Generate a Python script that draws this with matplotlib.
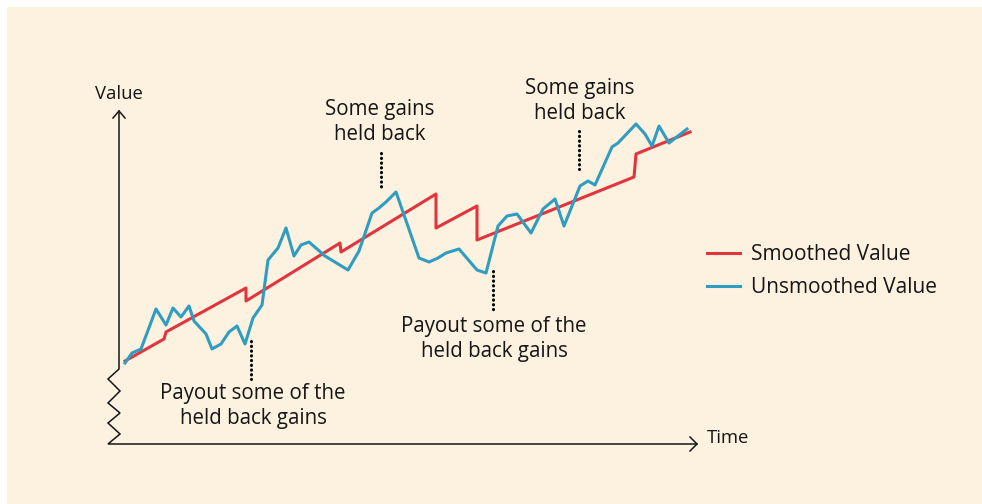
import matplotlib.pyplot as plt
from matplotlib.patches import Rectangle

plt.rcParams['font.family'] = ['Open Sans', 'DejaVu Sans']

# values (time, value) in arbitrary units
unsmoothed_t = [15, 22, 31, 46, 56, 63, 71, 79, 84, 96, 102, 111, 119, 127, 135, 143,
                152, 158, 168, 176, 184, 191, 199, 215, 238, 249, 262, 269, 276, 286,
                309, 319, 328, 336, 349, 367, 376, 388, 397, 407, 421, 433, 445, 454,
                470, 478, 485, 502, 508, 526, 535, 542, 549, 559, 577]
unsmoothed_v = [81, 91, 95, 135, 119, 136, 127, 138, 123, 110, 95, 100, 112, 118, 100, 126,
                139, 184, 196, 216, 188, 199, 202, 188, 174, 193, 231, 236, 242, 252,
                186, 182, 186, 191, 195, 174, 171, 218, 228, 230, 211, 235, 245, 218,
                258, 263, 259, 297, 301, 320, 310, 298, 318, 301, 315]

smoothed_t = [15, 54, 56, 136, 136, 230, 231, 326, 326, 367, 367, 524, 526, 580]
smoothed_v = [83, 105, 112, 156, 143, 201, 192, 250, 216, 238, 204, 267, 290, 312]

labels = ["Smoothed Value", "Unsmoothed Value"]
notes = ["Some gains\nheld back", "Some gains\nheld back",
         "Payout some of the\nheld back gains", "Payout some of the\nheld back gains"]

RED = '#E1353D'
BLUE = '#2F9DC2'
INK = '#161616'

fig = plt.figure(figsize=(9.82, 5.04), dpi=100, facecolor='white')
fig.patches.append(Rectangle((7 / 982, 0), 1, 497 / 504, transform=fig.transFigure,
                             facecolor='#FDF1DF', edgecolor='none', zorder=-10))

ax = fig.add_axes([110 / 982, 60 / 504, 600 / 982, 350 / 504])
ax.set_xlim(0, 600)
ax.set_ylim(0, 350)
ax.axis('off')

# axes with broken y axis
ax.plot([9, 9, -2, 10, -2, 10, -2, 10, -2, 587],
        [333, 75, 65, 53, 41, 31, 21, 10, 0, 0],
        color=INK, lw=1.1, clip_on=False, solid_joinstyle='miter')
ax.plot([3, 9, 15], [326, 333, 326], color=INK, lw=1.1, clip_on=False)
ax.plot([580, 587, 580], [7, 0, -7], color=INK, lw=1.1, clip_on=False)
ax.text(9, 350, "Value", ha='center', va='center', fontsize=13.3, color=INK)
ax.text(597, 6, "Time", ha='left', va='center', fontsize=13.3, color=INK)

ax.plot(smoothed_t, smoothed_v, color=RED, lw=2.2, label=labels[0], zorder=3)
ax.plot(unsmoothed_t, unsmoothed_v, color=BLUE, lw=2.2, label=labels[1], zorder=4)

# annotations
note_xy = [(270, 322), (470, 343), (143, 38), (384, 105)]
dots = [(271, 291, 255), (469, 313, 275), (141, 103, 65), (383, 173, 133)]
for txt, (x, y) in zip(notes, note_xy):
    ax.text(x, y, txt, ha='center', va='center', fontsize=14.8, color=INK,
            linespacing=1.25)
for x, y0, y1 in dots:
    ax.plot([x, x], [y0, y1], color='black', lw=2.2, linestyle=(0, (0.1, 1.45)),
            dash_capstyle='round', clip_on=False)

ax.legend(loc='center left', bbox_to_anchor=(707 / 982, 1 - 271 / 504),
          bbox_transform=fig.transFigure, frameon=False, fontsize=15,
          handlelength=1.6, handletextpad=0.53, labelspacing=0.56,
          borderpad=0, borderaxespad=0, labelcolor=INK)

fig.savefig('out.png', dpi=100, facecolor='white')
